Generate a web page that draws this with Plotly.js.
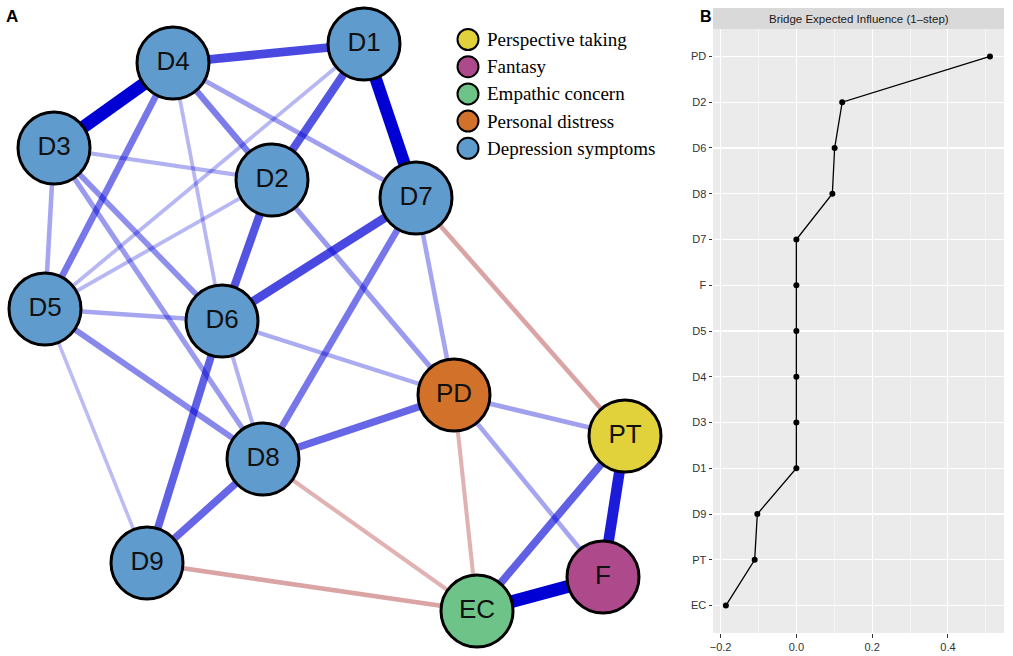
<!DOCTYPE html>
<html>
<head>
<meta charset="utf-8">
<script src="https://cdn.plot.ly/plotly-3.0.1.min.js"></script>
<style>html,body{margin:0;padding:0;background:#fff;}#chart{width:1013px;height:656px;}</style>
</head>
<body>
<div id="chart"></div>
<script>
// ---------- Panel A: network ----------
const nodeNames = ['D1','D2','D3','D4','D5','D6','D7','D8','D9','PT','F','EC','PD'];
const nodeGroup = ['Depression symptoms','Depression symptoms','Depression symptoms','Depression symptoms','Depression symptoms','Depression symptoms','Depression symptoms','Depression symptoms','Depression symptoms','Perspective taking','Fantasy','Empathic concern','Personal distress'];
const nodeX = [364,272,54,173,45,222,416,263,147,625,603,477,454];
const nodeY = [44,180,148,63,309,321,198,459,563,436,577,611,395];

const groupNames = ['Perspective taking','Fantasy','Empathic concern','Personal distress','Depression symptoms'];
const groupColors = ['#E1D13A','#AE4A8C','#6EC488','#D2712A','#5F9BCD'];

const edgeFrom = ['D3','EC','D1','PT','D1','D1','D2','D6','D6','D8','D8','PT','D4','D4','D7','D5','D3','D3','D2','PD','D4','D7','D3','D5','PD','D6','D3','D6','D4','D1','D2','D5','D7','D9','D8','PD'];
const edgeTo   = ['D4','F','D7','F','D4','D2','D6','D7','D9','PD','D9','EC','D5','D2','D8','D8','D6','D8','PD','PT','D7','PD','D5','D6','F','PD','D2','D8','D6','D5','D5','D9','PT','EC','EC','EC'];
const edgeWeight = [0.40,0.40,0.38,0.32,0.24,0.22,0.22,0.24,0.20,0.19,0.19,0.20,0.16,0.15,0.16,0.13,0.12,0.10,0.10,0.09,0.09,0.08,0.08,0.08,0.08,0.07,0.06,0.06,0.05,0.05,0.05,0.04,-0.08,-0.08,-0.06,-0.06];

// ---------- Panel B: bridge expected influence ----------
const beiNodes = ['PD','D2','D6','D8','D7','F','D5','D4','D3','D1','D9','PT','EC'];
const beiValues = [0.511,0.121,0.101,0.095,0.0,0.0,0.0,0.0,0.0,0.0,-0.103,-0.110,-0.186];
const xTickVals = [-0.2,0.0,0.2,0.4];

const traces = [];
const idx = n => nodeNames.indexOf(n);

edgeFrom.forEach((f,i)=>{
  const a = idx(f), b = idx(edgeTo[i]);
  const w = edgeWeight[i], aw = Math.abs(w);
  let color;
  if (w > 0) {
    const al = Math.min(1, 0.17 + 2.27*aw);
    color = 'rgba(0,0,213,'+al.toFixed(3)+')';
  } else {
    const al = Math.min(1, 0.2 + 4*aw);
    color = 'rgba(185,80,80,'+al.toFixed(3)+')';
  }
  traces.push({
    type:'scatter', mode:'lines', x:[nodeX[a],nodeX[b]], y:[nodeY[a],nodeY[b]],
    line:{color:color, width:2.5+26*aw}, hoverinfo:'skip', showlegend:false,
    xaxis:'x', yaxis:'y', cliponaxis:false
  });
});

traces.push({
  type:'scatter', mode:'markers+text', x:nodeX, y:nodeY, text:nodeNames,
  textposition:'middle center',
  textfont:{family:'Liberation Sans, Arial, sans-serif', size:26, color:'#111'},
  marker:{size:72, color:nodeGroup.map(g=>groupColors[groupNames.indexOf(g)]), line:{color:'#000', width:3}},
  hoverinfo:'text', showlegend:false, xaxis:'x', yaxis:'y', cliponaxis:false
});

// custom legend (layout positions)
const legX = 468, legTop = 39.5, legStep = 27.2;
traces.push({
  type:'scatter', mode:'markers', x:groupNames.map(()=>legX), y:groupNames.map((g,i)=>legTop+i*legStep),
  marker:{size:21, color:groupColors, line:{color:'#000', width:2}},
  hoverinfo:'skip', showlegend:false, xaxis:'x', yaxis:'y', cliponaxis:false
});

traces.push({
  type:'scatter', mode:'lines+markers', x:beiValues, y:beiNodes,
  line:{color:'#000', width:1.3}, marker:{color:'#000', size:6},
  showlegend:false, xaxis:'x2', yaxis:'y2', cliponaxis:false
});

const annotations = groupNames.map((g,i)=>({
  xref:'x', yref:'y', x:legX+17, y:legTop+i*legStep, text:g, showarrow:false,
  xanchor:'left', yanchor:'middle',
  font:{family:'Liberation Serif, Times New Roman, serif', size:19, color:'#000'}
}));
annotations.push({xref:'paper', yref:'paper', x:12/1013, y:1-16/656, text:'<b>A</b>', showarrow:false,
  xanchor:'center', yanchor:'middle', font:{family:'Liberation Sans, Arial, sans-serif', size:17, color:'#000'}});
annotations.push({xref:'paper', yref:'paper', x:706/1013, y:1-16/656, text:'<b>B</b>', showarrow:false,
  xanchor:'center', yanchor:'middle', font:{family:'Liberation Sans, Arial, sans-serif', size:16, color:'#000'}});
annotations.push({xref:'x2 domain', yref:'paper', x:0.5, y:1-18.5/656, text:'Bridge Expected Influence (1\u2013step)', showarrow:false,
  xanchor:'center', yanchor:'middle', font:{family:'Liberation Sans, Arial, sans-serif', size:11.5, color:'#1a1a1a'}});

const tickFont = {family:'Liberation Sans, Arial, sans-serif', size:11, color:'#333'};
const layout = {
  width:1013, height:656, margin:{l:0,r:0,t:0,b:0},
  paper_bgcolor:'#fff', plot_bgcolor:'rgba(0,0,0,0)',
  showlegend:false,
  xaxis:{domain:[0,700/1013], range:[0,700], visible:false, fixedrange:true},
  yaxis:{domain:[0,1], range:[656,0], visible:false, fixedrange:true},
  xaxis2:{domain:[713/1013,1004/1013], anchor:'y2', range:[-0.22,0.548],
    tickmode:'array', tickvals:xTickVals, ticktext:xTickVals.map(v=>v.toFixed(1).replace('-','\u2212')),
    showgrid:true, gridcolor:'#fff', gridwidth:1.1, zeroline:false, showline:false,
    ticks:'outside', ticklen:3.5, tickcolor:'#333', tickwidth:1, tickfont:tickFont,
    minor:{tickvals:[-0.1,0.1,0.3,0.5], showgrid:true, gridcolor:'#fff', gridwidth:0.5, ticks:''}},
  yaxis2:{domain:[1-633/656,1-29/656], anchor:'x2', type:'category',
    categoryorder:'array', categoryarray:beiNodes.slice().reverse(), range:[-0.6,12.6],
    showgrid:true, gridcolor:'#fff', gridwidth:1.1, zeroline:false, showline:false,
    ticks:'outside', ticklen:3.5, tickcolor:'#333', tickwidth:1, tickfont:tickFont},
  shapes:[
    {type:'rect', xref:'x2 domain', yref:'y2 domain', x0:0, x1:1, y0:0, y1:1, fillcolor:'#EBEBEB', line:{width:0}, layer:'below'},
    {type:'rect', xref:'x2 domain', yref:'paper', x0:0, x1:1, y0:1-29/656, y1:1-8/656, fillcolor:'#D9D9D9', line:{width:0}, layer:'below'}
  ],
  annotations:annotations
};

Plotly.newPlot('chart', traces, layout, {displayModeBar:false, staticPlot:true});
</script>
</body>
</html>
